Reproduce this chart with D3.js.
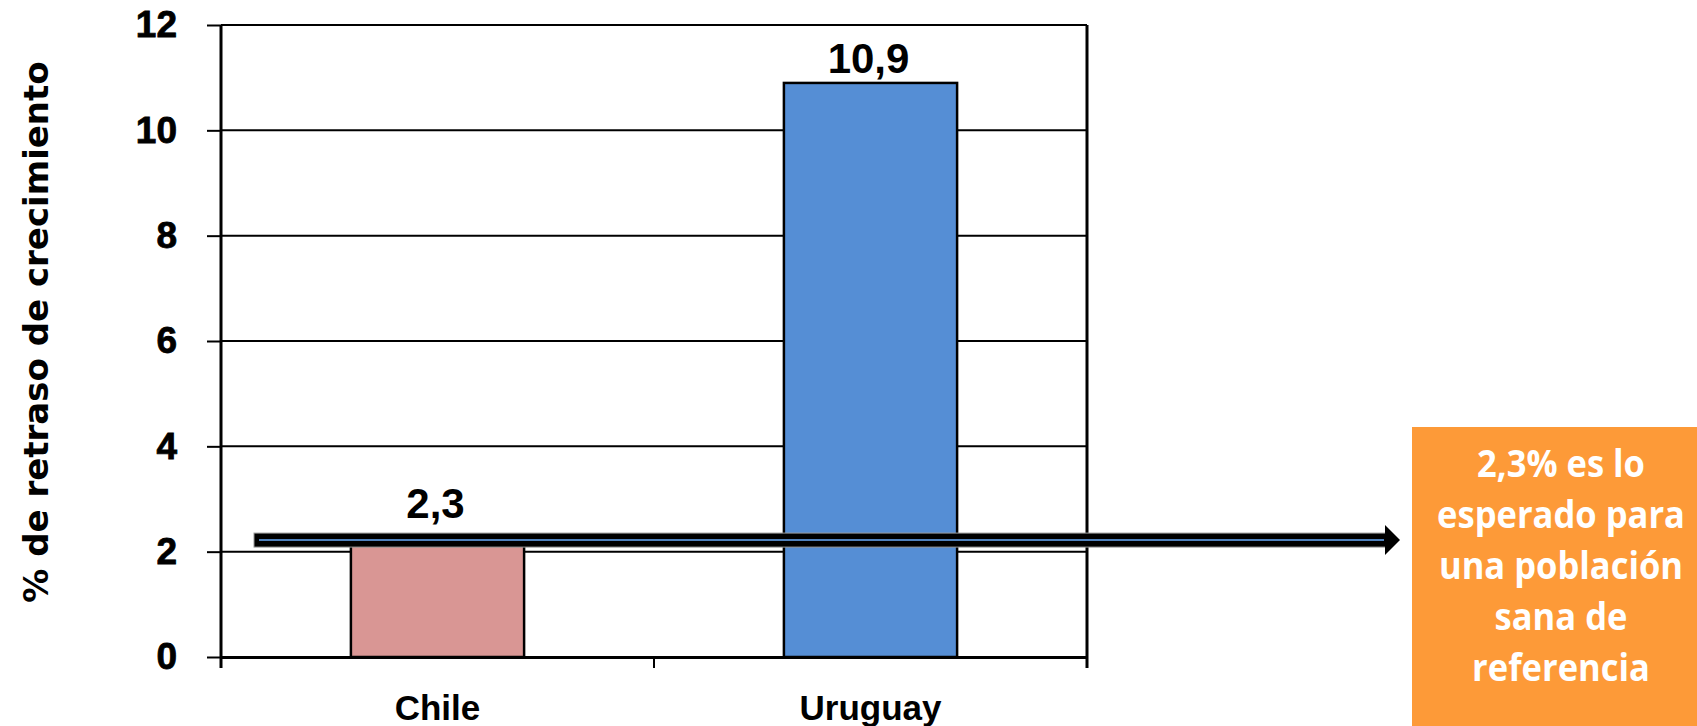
<!DOCTYPE html>
<html>
<head>
<meta charset="utf-8">
<script src="https://cdn.jsdelivr.net/npm/d3@7"></script>
<style>
  body { margin: 0; background: #fff; }
  svg { display: block; }
</style>
</head>
<body>
<svg id="chart" width="1697" height="726"></svg>
<script>
// data
const countries = ['Chile', 'Uruguay'];
const retraso = [2.3, 10.9];
const valueLabels = ['2,3', '10,9'];
const barColors = ['#d99694', '#558ed5'];
const yTicks = [0, 2, 4, 6, 8, 10, 12];
const refValue = 2.22; // where the arrow sits
const noteLines = ['2,3% es lo', 'esperado para', 'una población', 'sana de', 'referencia'];

const svg = d3.select('#chart');
const margin = { left: 221, right: 1087, top: 25, bottom: 657 };

const x = d3.scaleBand()
  .domain(countries)
  .range([margin.left, margin.right]);

const y = d3.scaleLinear()
  .domain([0, 12])
  .range([margin.bottom, margin.top]);

// gridlines
svg.append('g')
  .selectAll('line')
  .data(yTicks.filter(d => d > 0))
  .join('line')
  .attr('x1', margin.left)
  .attr('x2', margin.right)
  .attr('y1', d => y(d))
  .attr('y2', d => y(d))
  .attr('stroke', '#000')
  .attr('stroke-width', 2);

// right border
svg.append('line')
  .attr('x1', margin.right)
  .attr('x2', margin.right)
  .attr('y1', y(12))
  .attr('y2', y(0) + 11)
  .attr('stroke', '#000')
  .attr('stroke-width', 3);

// bars
const bw = x.bandwidth() * 0.4;
svg.append('g')
  .selectAll('rect')
  .data(retraso)
  .join('rect')
  .attr('x', (d, i) => x(countries[i]) + x.bandwidth() / 2 - bw / 2)
  .attr('y', d => y(d))
  .attr('width', bw)
  .attr('height', d => y(0) - y(d))
  .attr('fill', (d, i) => barColors[i])
  .attr('stroke', '#000')
  .attr('stroke-width', 2.5);

// y axis
const yAxis = svg.append('g')
  .attr('transform', `translate(${margin.left},0)`)
  .call(d3.axisLeft(y).tickValues(yTicks).tickSize(14).tickPadding(30));
yAxis.select('.domain')
  .attr('d', `M0,${y(12)}V${y(0) + 11}`)
  .attr('stroke-width', 3);
yAxis.selectAll('.tick line').attr('stroke-width', 2);
yAxis.selectAll('.tick text')
  .attr('font-family', '"Liberation Sans", Arial, sans-serif')
  .attr('font-weight', 'bold')
  .attr('font-size', 37)
  .attr('stroke', '#000')
  .attr('stroke-width', 0.8)
  .attr('fill', '#000');

// x axis
const xAxis = svg.append('g')
  .attr('transform', `translate(0,${y(0)})`)
  .call(d3.axisBottom(x).tickSize(0).tickPadding(38));
xAxis.select('.domain').attr('stroke-width', 3);
xAxis.selectAll('.tick text')
  .attr('font-family', '"Liberation Sans", Arial, sans-serif')
  .attr('font-weight', 'bold')
  .attr('font-size', 35)
  .attr('fill', '#000');

// category separators on x axis
svg.append('g')
  .selectAll('line')
  .data([...countries.map(c => x(c)), margin.right])
  .join('line')
  .attr('x1', d => d)
  .attr('x2', d => d)
  .attr('y1', y(0))
  .attr('y2', y(0) + 11)
  .attr('stroke', '#000')
  .attr('stroke-width', 2);

// value labels
const labelDy = [18, 10];
svg.append('g')
  .selectAll('text')
  .data(retraso)
  .join('text')
  .attr('x', (d, i) => x(countries[i]) + x.bandwidth() / 2 - 2)
  .attr('y', (d, i) => y(d) - labelDy[i])
  .attr('text-anchor', 'middle')
  .attr('font-family', '"Liberation Sans", Arial, sans-serif')
  .attr('font-weight', 'bold')
  .attr('font-size', 42)
  .text((d, i) => valueLabels[i]);

// y title
svg.append('text')
  .attr('transform', `translate(48,332) rotate(-90)`)
  .attr('text-anchor', 'middle')
  .attr('font-family', '"DejaVu Sans", Verdana, sans-serif')
  .attr('font-weight', 'bold')
  .attr('font-size', 34)
  .text('% de retraso de crecimiento');

// arrow
const ay = y(refValue);
const arrowStart = 254, arrowEnd = 1400;
svg.append('rect')
  .attr('x', arrowStart)
  .attr('y', ay - 7)
  .attr('width', arrowEnd - 14 - arrowStart)
  .attr('height', 14)
  .attr('fill', '#000')
  .attr('stroke', '#999')
  .attr('stroke-width', 1);
svg.append('path')
  .attr('d', `M${arrowEnd - 15},${ay - 15}L${arrowEnd},${ay}L${arrowEnd - 15},${ay + 15}Z`)
  .attr('fill', '#000');
svg.append('line')
  .attr('x1', arrowStart + 5)
  .attr('x2', arrowEnd - 16)
  .attr('y1', ay)
  .attr('y2', ay)
  .attr('stroke', '#4f81bd')
  .attr('stroke-width', 2);

// note box
svg.append('rect')
  .attr('x', 1412)
  .attr('y', 427)
  .attr('width', 285)
  .attr('height', 299)
  .attr('fill', '#fd9a38');

const noteX = 1561;
const note = svg.append('text')
  .attr('text-anchor', 'middle')
  .attr('font-family', '"Open Sans", sans-serif')
  .attr('font-weight', 'bold')
  .attr('font-size', 38)
  .attr('fill', '#fff');
note.selectAll('tspan')
  .data(noteLines)
  .join('tspan')
  .attr('x', 0)
  .attr('y', (d, i) => 477 + i * 51)
  .text(d => d);

// squeeze the note sideways so "esperado para" is about 248px wide (calibri-like)
const widest = note.selectAll('tspan').nodes()[1].getComputedTextLength();
note.attr('transform', `translate(${noteX},0) scale(${Math.min(1, 248 / widest)},1)`);
</script>
</body>
</html>
